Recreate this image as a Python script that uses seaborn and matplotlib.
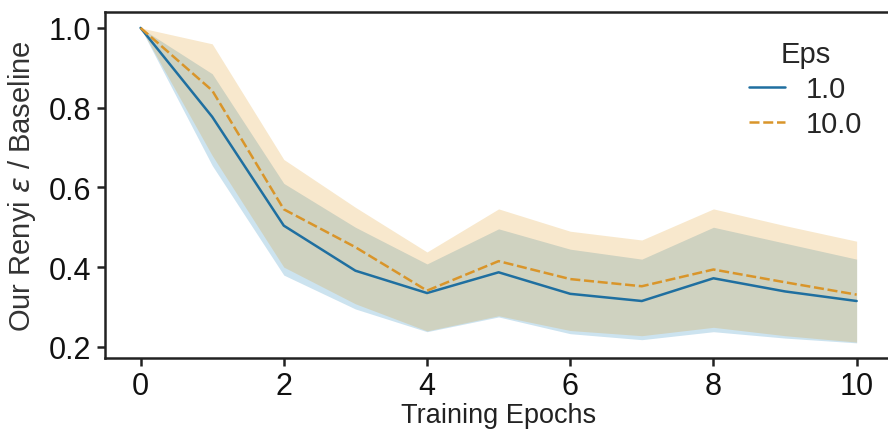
import numpy as np
import pandas as pd
import seaborn as sns
import matplotlib
matplotlib.use("Agg")
import matplotlib.pyplot as plt

epochs = [0, 1, 2, 3, 4, 5, 6, 7, 8, 9, 10]
eps_labels = ["1.0", "10.0"]

mean_eps1 = [1.0, 0.777, 0.504, 0.391, 0.335, 0.387, 0.333, 0.315, 0.372, 0.339, 0.315]
low_eps1 = [1.0, 0.655, 0.38, 0.295, 0.238, 0.275, 0.233, 0.218, 0.238, 0.222, 0.21]
high_eps1 = [1.0, 0.885, 0.61, 0.50, 0.408, 0.496, 0.445, 0.42, 0.50, 0.46, 0.42]

mean_eps10 = [1.0, 0.843, 0.545, 0.45, 0.341, 0.415, 0.37, 0.352, 0.394, 0.362, 0.331]
low_eps10 = [1.0, 0.68, 0.40, 0.308, 0.24, 0.278, 0.241, 0.228, 0.249, 0.228, 0.212]
high_eps10 = [1.0, 0.96, 0.67, 0.55, 0.438, 0.546, 0.49, 0.468, 0.546, 0.504, 0.465]

sns.set_theme(style="ticks")
plt.rcParams['font.family'] = ['Liberation Sans', 'DejaVu Sans']
plt.rcParams['mathtext.fontset'] = 'dejavusans'

df = pd.DataFrame({
    "Training Epochs": epochs * 2,
    "value": mean_eps1 + mean_eps10,
    "Eps": [eps_labels[0]] * len(epochs) + [eps_labels[1]] * len(epochs),
})

line_colors = ["#1f6fa0", "#d9952a"]
band_colors = ["#0173b2", "#de8f05"]

fig = plt.figure(figsize=(8.88, 4.31), dpi=100)
ax = fig.add_axes([0.118, 0.167, 0.887, 0.803])

ax.fill_between(epochs, low_eps1, high_eps1, color=band_colors[0], alpha=0.2, linewidth=0)
ax.fill_between(epochs, low_eps10, high_eps10, color=band_colors[1], alpha=0.2, linewidth=0)

sns.lineplot(data=df, x="Training Epochs", y="value", hue="Eps", style="Eps",
             palette=line_colors, errorbar=None, linewidth=1.8, ax=ax)

ax.set_xlim(-0.5, 10.5)
ax.set_ylim(0.172, 1.04)
ax.set_xticks([0, 2, 4, 6, 8, 10])
ax.set_yticks([0.2, 0.4, 0.6, 0.8, 1.0])
ax.tick_params(axis="both", labelsize=22, length=6, width=1.8, color="#222222", labelcolor="#111111")
ax.tick_params(axis="x", pad=3)
ax.set_xlabel("Training Epochs", fontsize=19.5, color="#222222", va="top")
ax.xaxis.set_label_coords(0.5, -0.128)
ax.set_ylabel(r"Our Renyi $\varepsilon$ / Baseline", fontsize=21, color="#333333", labelpad=8)
for s in ax.spines.values():
    s.set_linewidth(1.8)
    s.set_color("#222222")

leg = ax.legend(title="Eps", frameon=False, fontsize=21, title_fontsize=21,
                loc="upper right", bbox_to_anchor=(0.995, 0.995), handlelength=1.25,
                handletextpad=0.7, labelspacing=0.25)

fig.savefig("out.png", dpi=100)
